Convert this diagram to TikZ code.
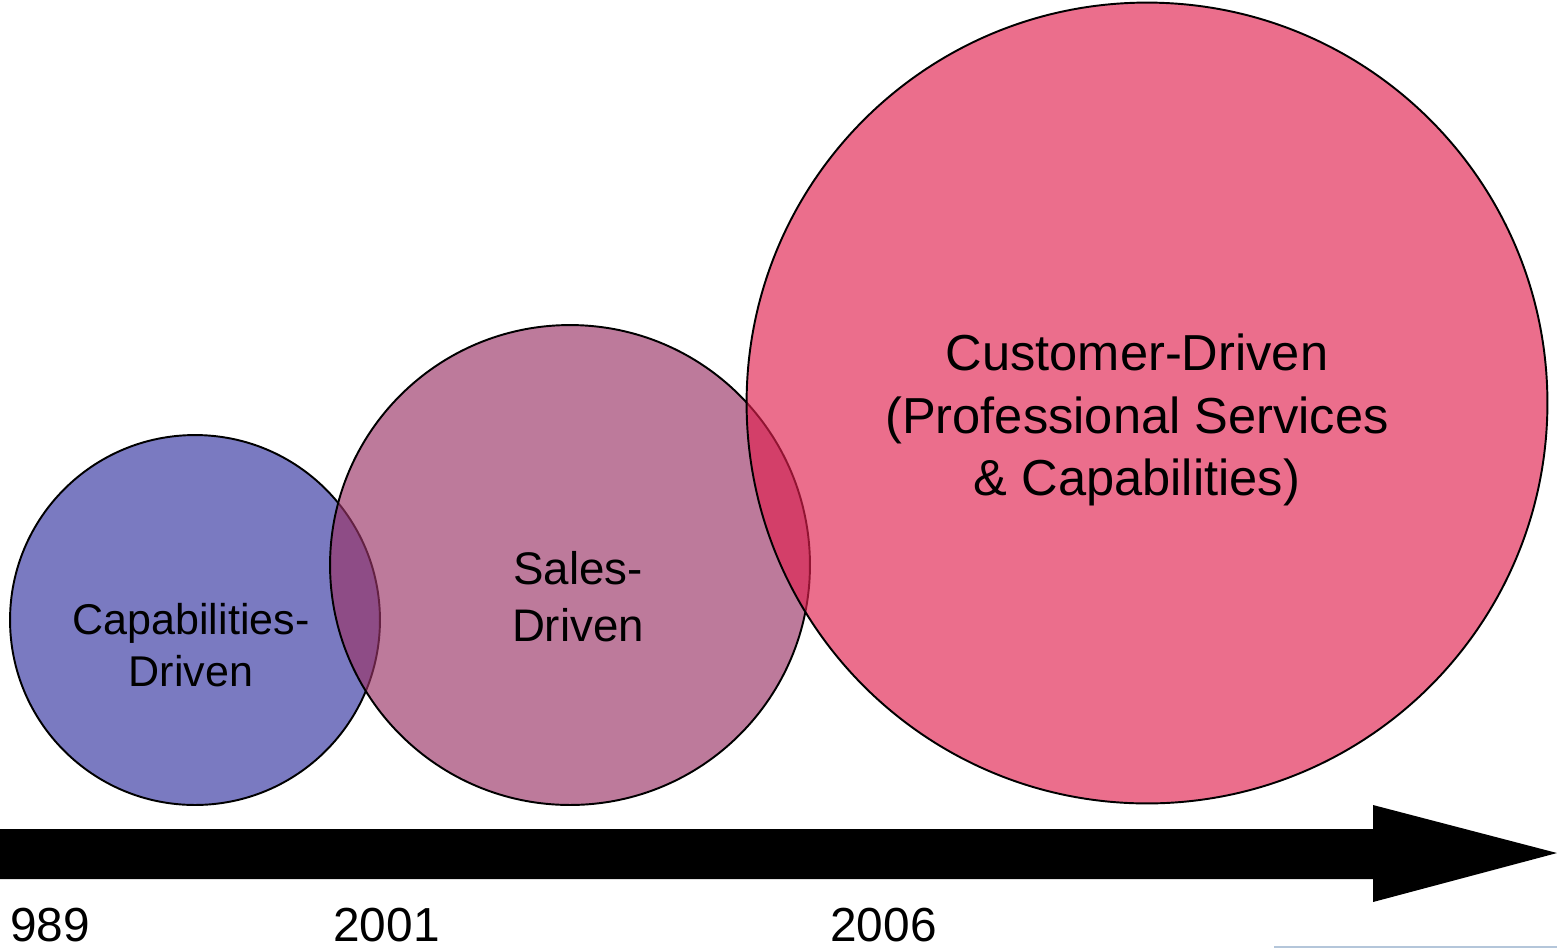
\documentclass[tikz,border=0pt]{standalone}
\usepackage{fontspec}
\setmainfont{Liberation Sans}
\usepackage{tikz}
\usetikzlibrary{positioning}
\definecolor{phaseBlue}{HTML}{3333A0}
\definecolor{phaseMauve}{HTML}{993366}
\definecolor{phasePink}{HTML}{E0204E}
\definecolor{edgeGrey}{HTML}{B4C6DA}
\tikzset{
    phase/.style={circle, draw=black, line width=1.1pt, inner sep=0pt, fill opacity=0.65},
    phaselabel/.style={align=center, text=black, inner sep=0pt},
    year/.style={font=\fontsize{27.2}{32}\selectfont, anchor=base west, inner sep=0pt}
}
\begin{document}
\begin{tikzpicture}[x=0.02cm, y=-0.02cm]
\useasboundingbox (0,0) rectangle (1557,948);
% the three phases, later ones on top
\node[phase, fill=phaseBlue, minimum size=7.4cm] (capab) at (195,620) {};
\node[phase, fill=phaseMauve, minimum size=9.6cm] (sales) at (570,565) {};
\node[phase, fill=phasePink, minimum size=16.02cm] (cust) at (1147,403) {};
\node[phaselabel, font=\fontsize{24.5}{29.5}\selectfont] (capabtxt) at (191,645) {Capabilities-\\Driven};
\node[phaselabel, font=\fontsize{26}{32.3}\selectfont] (salestxt) at (578,597) {Sales-\\Driven};
\node[phaselabel, font=\fontsize{28.8}{35.4}\selectfont] (custtxt) at (1137,420) {Customer-Driven\\(Professional Services\\\& Capabilities)};
% time axis
\coordinate (tail) at (0,854);
\coordinate (tip) at (1557,853);
\fill[black] (tail) ++(0,-25) -- (1373,829) -- (1373,805) -- (tip) -- (1373,902) -- (1373,879) -- (0,879) -- cycle;
\node[year] (y1989) at (10,941) {989};
\node[year] (y2001) at (333,941) {2001};
\node[year] (y2006) at (830,941) {2006};
\draw[edgeGrey, line width=1.5pt] (1274,947) -- (1557,947);
\end{tikzpicture}
\end{document}
